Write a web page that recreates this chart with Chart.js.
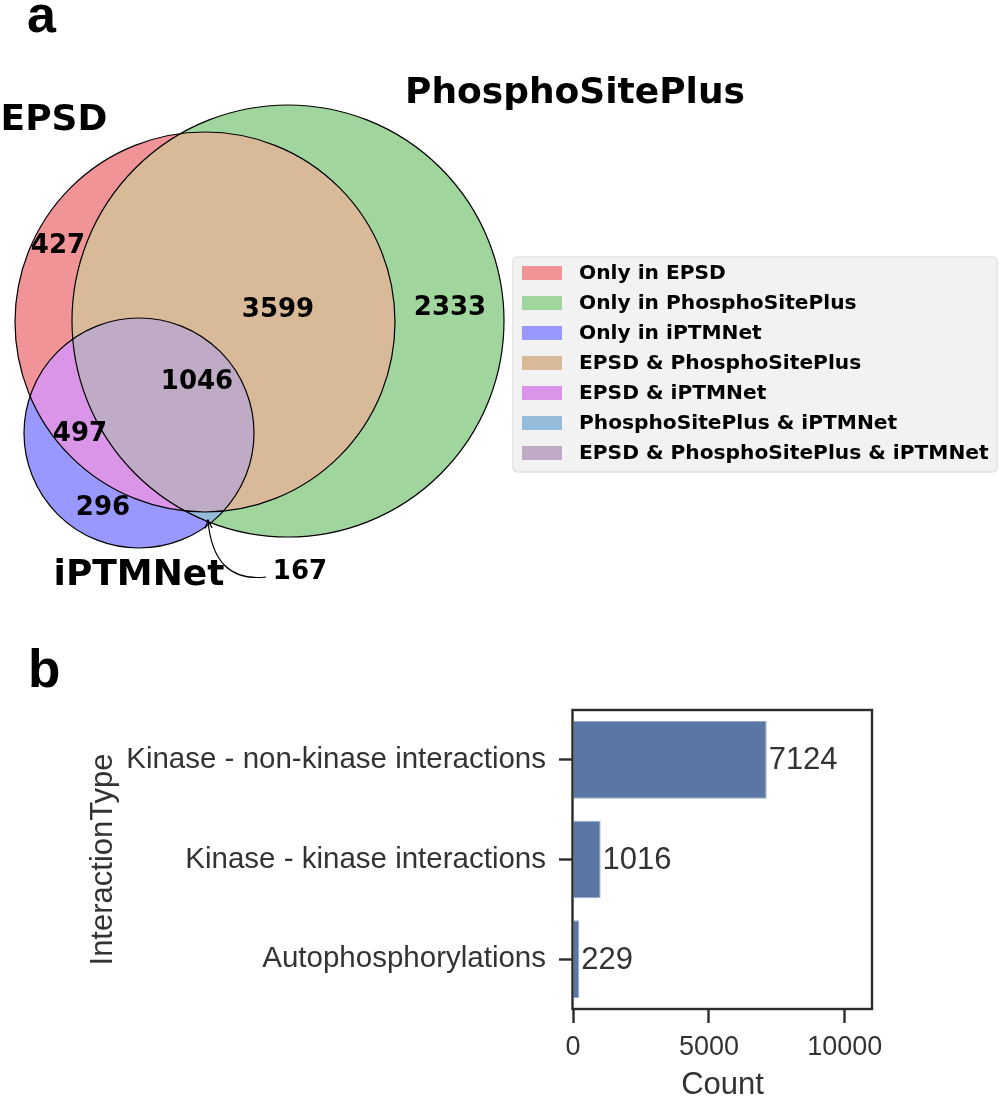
<!DOCTYPE html>
<html><head><meta charset="utf-8">
<script src="https://cdn.jsdelivr.net/npm/chart.js@4.4.1/dist/chart.umd.min.js"></script>
<style>
html,body{margin:0;padding:0;background:#fff;width:1000px;height:1101px;overflow:hidden}
#a{position:absolute;left:0;top:0}
#b{position:absolute;left:0;top:620px}
</style></head><body>
<canvas id="a" width="1000" height="620"></canvas>
<canvas id="b" width="1000" height="481"></canvas>
<script>
// ---------- Panel a: data ----------
const setNames = ['EPSD', 'PhosphoSitePlus', 'iPTMNet'];
const regionNames = ['Only in EPSD', 'Only in PhosphoSitePlus', 'Only in iPTMNet',
  'EPSD & PhosphoSitePlus', 'EPSD & iPTMNet', 'PhosphoSitePlus & iPTMNet',
  'EPSD & PhosphoSitePlus & iPTMNet'];
const regionCounts = [427, 2333, 296, 3599, 497, 167, 1046];
// membership of each region in (EPSD, PhosphoSitePlus, iPTMNet)
const regionMasks = [[1,0,0],[0,1,0],[0,0,1],[1,1,0],[1,0,1],[0,1,1],[1,1,1]];

// ---------- Panel b: data ----------
const interactionTypes = ['Kinase - non-kinase interactions', 'Kinase - kinase interactions', 'Autophosphorylations'];
const interactionCounts = [7124, 1016, 229];
const countTicks = [0, 5000, 10000];

// ---------- layout & style (Venn plane units) ----------
const circleLayout = [{x:205, y:322, r:190}, {x:288, y:321, r:216}, {x:139, y:433, r:115}];
const setLabelLayout = [{x:54, y:130}, {x:575, y:103}, {x:139, y:585}];
const regionLabelLayout = [{x:58,y:246},{x:450,y:308},{x:103,y:508},{x:278,y:310},{x:80,y:434},{x:300,y:572},{x:197,y:382}];
const annotTarget = {x:208, y:520};
const regionColors = ['rgb(241,148,152)','rgb(160,214,158)','rgb(152,152,255)','rgb(216,186,152)',
  'rgb(218,148,232)','rgb(150,188,220)','rgb(191,171,197)'];
const VF = '"DejaVu Sans", sans-serif';
const LF = '"Liberation Sans", Arial, sans-serif';

const vennPlugin = {
  id: 'venn',
  afterDatasetsDraw(chart) {
    const {ctx} = chart;
    const sx = chart.scales.x, sy = chart.scales.y;
    const px = v => sx.getPixelForValue(v), py = v => sy.getPixelForValue(v);
    const W = chart.width, H = chart.height;
    const circ = circleLayout.map(c => ({cx: px(c.x), cy: py(c.y), r: Math.abs(px(c.x + c.r) - px(c.x))}));
    // regions
    regionMasks.forEach((m, i) => {
      ctx.save();
      m.forEach((inside, k) => {
        const c = circ[k];
        ctx.beginPath();
        if (inside) {
          ctx.arc(c.cx, c.cy, c.r, 0, 2 * Math.PI);
          ctx.clip();
        } else {
          ctx.rect(0, 0, W, H);
          ctx.moveTo(c.cx + c.r, c.cy);
          ctx.arc(c.cx, c.cy, c.r, 0, 2 * Math.PI);
          ctx.clip('evenodd');
        }
      });
      ctx.fillStyle = regionColors[i];
      ctx.fillRect(0, 0, W, H);
      ctx.restore();
    });
    // outlines
    ctx.save();
    ctx.strokeStyle = '#000';
    ctx.lineWidth = 1.2;
    circ.forEach(c => { ctx.beginPath(); ctx.arc(c.cx, c.cy, c.r, 0, 2 * Math.PI); ctx.stroke(); });
    ctx.restore();
    // region counts
    ctx.save();
    ctx.fillStyle = '#000';
    ctx.font = 'bold 26px ' + VF;
    ctx.textAlign = 'center';
    ctx.textBaseline = 'middle';
    regionCounts.forEach((v, i) => {
      const p = regionLabelLayout[i];
      ctx.fillText(String(v), px(p.x), py(p.y));
    });
    // set labels
    ctx.font = 'bold 36px ' + VF;
    ctx.textBaseline = 'alphabetic';
    setNames.forEach((n, i) => {
      const p = setLabelLayout[i];
      ctx.fillText(n, px(p.x), py(p.y));
    });
    // annotation arrow for the small region
    const lp = regionLabelLayout[5];
    const x0 = px(lp.x) - 34, y0 = py(lp.y) + 5;
    const tx = px(annotTarget.x), ty = py(annotTarget.y);
    const cxp = tx + 5, cyp = y0 + 6;
    ctx.beginPath();
    ctx.lineWidth = 1.2;
    ctx.strokeStyle = '#000';
    ctx.moveTo(x0, y0);
    ctx.quadraticCurveTo(cxp, cyp, tx, ty);
    ctx.stroke();
    const ang = Math.atan2(ty - cyp, tx - cxp);
    const hl = 9, ha = 0.4;
    ctx.beginPath();
    ctx.moveTo(tx - hl * Math.cos(ang - ha), ty - hl * Math.sin(ang - ha));
    ctx.lineTo(tx, ty);
    ctx.lineTo(tx - hl * Math.cos(ang + ha), ty - hl * Math.sin(ang + ha));
    ctx.stroke();
    // legend
    const bx = 513, by = 257, bw = 484, bh = 215, rr = 4;
    ctx.beginPath();
    ctx.moveTo(bx + rr, by);
    ctx.arcTo(bx + bw, by, bx + bw, by + bh, rr);
    ctx.arcTo(bx + bw, by + bh, bx, by + bh, rr);
    ctx.arcTo(bx, by + bh, bx, by, rr);
    ctx.arcTo(bx, by, bx + bw, by, rr);
    ctx.closePath();
    ctx.fillStyle = '#f2f2f2';
    ctx.fill();
    ctx.strokeStyle = '#d8d8d8';
    ctx.lineWidth = 1;
    ctx.stroke();
    ctx.font = 'bold 20.2px ' + VF;
    ctx.textAlign = 'left';
    ctx.textBaseline = 'middle';
    regionNames.forEach((n, i) => {
      const ry = 273 + i * 30;
      ctx.fillStyle = regionColors[i];
      ctx.fillRect(522, ry - 7, 40, 14);
      ctx.fillStyle = '#000';
      ctx.fillText(n, 579, ry + 1);
    });
    // panel letter
    ctx.font = 'bold 52px ' + LF;
    ctx.fillText('a', 27, 18);
    ctx.restore();
  }
};

new Chart(document.getElementById('a'), {
  type: 'scatter',
  data: { datasets: [{ data: circleLayout.map(c => ({x: c.x, y: c.y})), pointRadius: 0 }] },
  options: {
    responsive: false, animation: false, devicePixelRatio: 1,
    layout: { padding: 0 },
    plugins: { legend: { display: false }, tooltip: { enabled: false } },
    scales: {
      x: { type: 'linear', min: 0, max: 1000, display: false },
      y: { type: 'linear', min: 0, max: 620, reverse: true, display: false }
    }
  },
  plugins: [vennPlugin]
});

// ---------- Panel b ----------
const barPlugin = {
  id: 'barExtras',
  afterDatasetsDraw(chart) {
    const {ctx, chartArea: a} = chart;
    ctx.save();
    // value labels
    ctx.fillStyle = '#333';
    ctx.font = '31px ' + LF;
    ctx.textAlign = 'left';
    ctx.textBaseline = 'middle';
    chart.getDatasetMeta(0).data.forEach((bar, i) => {
      ctx.fillText(String(interactionCounts[i]), bar.x + 2, bar.y + 1);
    });
    // frame
    ctx.strokeStyle = '#2b2b2b';
    ctx.lineWidth = 2.4;
    ctx.strokeRect(a.left - 0.5, a.top, a.right - a.left + 0.5, a.bottom - a.top);
    // panel letter
    ctx.fillStyle = '#000';
    ctx.font = 'bold 53px ' + LF;
    ctx.textBaseline = 'alphabetic';
    ctx.fillText('b', 28, 67);
    ctx.restore();
  }
};

new Chart(document.getElementById('b'), {
  type: 'bar',
  data: {
    labels: interactionTypes,
    datasets: [{ data: interactionCounts, backgroundColor: '#5a76a4', borderColor: 'rgba(140,162,198,0.9)', borderWidth: 1,
      barPercentage: 0.78, categoryPercentage: 1 }]
  },
  options: {
    indexAxis: 'y',
    responsive: false, animation: false, devicePixelRatio: 1,
    layout: { padding: { left: 0, right: 128, top: 90, bottom: 0 } },
    plugins: { legend: { display: false }, tooltip: { enabled: false } },
    scales: {
      x: {
        min: 0, max: 11000,
        afterBuildTicks: s => { s.ticks = countTicks.map(v => ({value: v})); },
        ticks: { color: '#333', font: { family: LF, size: 27, lineHeight: 1.2 }, padding: 8,
          callback: v => String(v) },
        grid: { drawOnChartArea: false, drawTicks: true, tickLength: 14, tickWidth: 2.4, tickColor: '#2b2b2b' },
        border: { display: false },
        title: { display: true, text: 'Count', color: '#333', font: { family: LF, size: 31, lineHeight: 1 }, padding: { top: 0, bottom: 0 } },
        afterFit: s => { s.height = 92; }
      },
      y: {
        ticks: { color: '#333', font: { family: LF, size: 29.5, lineHeight: 1.2 }, padding: 13 },
        grid: { offset: false, drawOnChartArea: false, drawTicks: true, tickLength: 14, tickWidth: 2.4, tickColor: '#2b2b2b' },
        border: { display: false },
        title: { display: true, text: 'InteractionType', color: '#333', font: { family: LF, size: 31, lineHeight: 1 }, padding: { top: 88, bottom: 0 } },
        afterFit: s => { s.width = 573; }
      }
    }
  },
  plugins: [barPlugin]
});
</script>
</body></html>
